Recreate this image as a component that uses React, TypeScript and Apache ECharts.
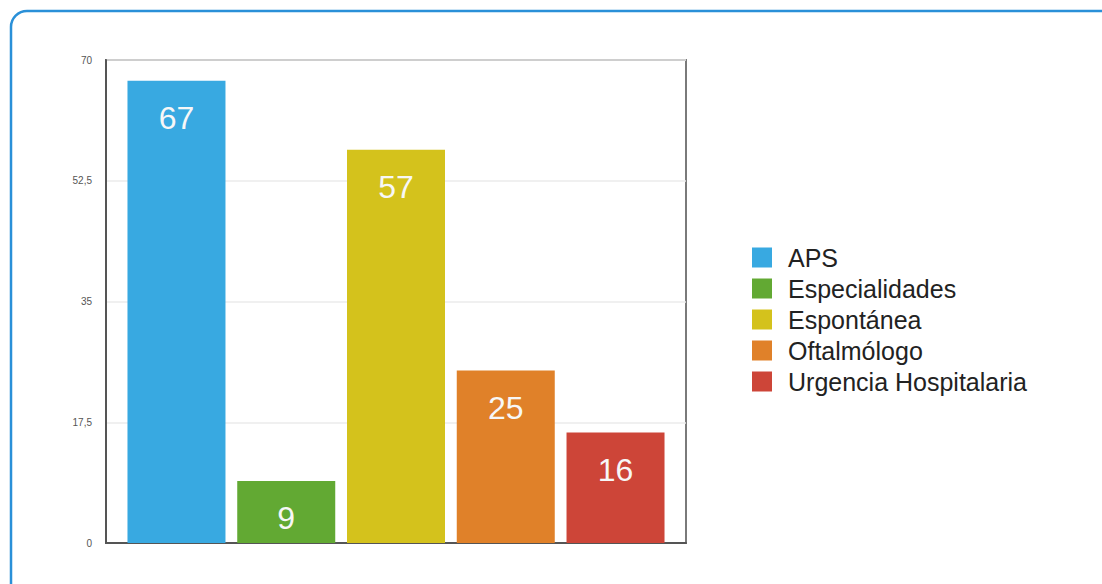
import React, { useEffect, useRef } from "react";
import * as echarts from "echarts";

const categories = [""];
const seriesNames = ["APS", "Especialidades", "Espontánea", "Oftalmólogo", "Urgencia Hospitalaria"];
const seriesValues = [67, 9, 57, 25, 16];
const seriesColors = ["#38a9e1", "#62a933", "#d4c21c", "#e08129", "#cd4538"];
const yTicks = [0, 17.5, 35, 52.5, 70];

export default function App() {
  const ref = useRef<HTMLDivElement>(null);
  useEffect(() => {
    if (!ref.current) return;
    const chart = echarts.init(ref.current, undefined, { renderer: "svg" });
    chart.setOption({
      animation: false,
      backgroundColor: "#ffffff",
      textStyle: { fontFamily: "Liberation Sans, Arial, sans-serif" },
      graphic: [
        {
          type: "rect",
          shape: { x: 11, y: 11, width: 1130, height: 600, r: 16 },
          style: { fill: "none", stroke: "#2a90d8", lineWidth: 2.5 },
          silent: true,
          z: 0,
        },
      ],
      grid: {
        left: 106,
        top: 60,
        right: 416,
        bottom: 41,
        show: true,
        borderColor: "#7a7a7a",
        borderWidth: 2,
        backgroundColor: "transparent",
      },
      legend: {
        orient: "vertical",
        left: 747,
        top: 240,
        itemWidth: 20,
        itemHeight: 20,
        itemGap: 6,
        icon: "rect",
        data: seriesNames,
        textStyle: {
          fontSize: 25,
          color: "#222",
          padding: [0, 0, 0, 11],
          fontFamily: "Liberation Sans, Arial, sans-serif",
        },
      },
      xAxis: {
        type: "category",
        data: categories,
        axisLine: { show: true, lineStyle: { color: "#555", width: 2 } },
        axisTick: { show: false },
        axisLabel: { show: false },
      },
      yAxis: {
        type: "value",
        min: yTicks[0],
        max: yTicks[yTicks.length - 1],
        interval: 17.5,
        axisLine: { show: true, lineStyle: { color: "#555", width: 2 } },
        axisTick: { show: false },
        splitLine: { show: true, lineStyle: { color: "#ebebeb", width: 1.5 } },
        axisLabel: {
          color: "#555",
          fontSize: 10,
          margin: 14,
          formatter: (v: number) => String(v).replace(".", ","),
        },
      },
      series: seriesNames.map((name, i) => ({
        name,
        type: "bar",
        data: [seriesValues[i]],
        barWidth: 98,
        barGap: "12%",
        itemStyle: { color: seriesColors[i] },
        label: {
          show: true,
          position: "insideTop",
          distance: 21,
          color: "#f7f7f7",
          fontSize: 32,
          fontFamily: "Liberation Sans, Arial, sans-serif",
        },
      })),
    });
    return () => chart.dispose();
  }, []);
  return <div ref={ref} style={{ width: 1102, height: 584, position: "absolute", left: 0, top: 0 }} />;
}
